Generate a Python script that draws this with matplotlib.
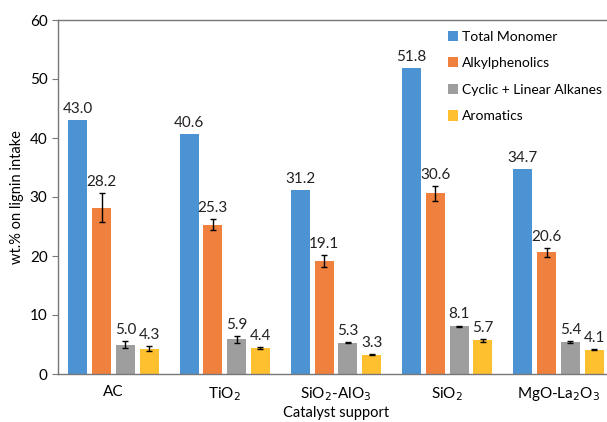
import matplotlib
matplotlib.use("Agg")
import matplotlib.pyplot as plt
import numpy as np

categories = ["AC", "TiO$_2$", "SiO$_2$-AlO$_3$", "SiO$_2$", "MgO-La$_2$O$_3$"]
series_names = ["Total Monomer", "Alkylphenolics", "Cyclic + Linear Alkanes", "Aromatics"]
total_monomer = [43.0, 40.6, 31.2, 51.8, 34.7]
alkylphenolics = [28.2, 25.3, 19.1, 30.6, 20.6]
alkanes = [5.0, 5.9, 5.3, 8.1, 5.4]
aromatics = [4.3, 4.4, 3.3, 5.7, 4.1]
err_total = [0, 0, 0, 0, 0]
err_alkylphenolics = [2.5, 0.9, 1.0, 1.3, 0.7]
err_alkanes = [0.6, 0.6, 0.1, 0.1, 0.2]
err_aromatics = [0.4, 0.2, 0.1, 0.2, 0.1]

values = [total_monomer, alkylphenolics, alkanes, aromatics]
errors = [err_total, err_alkylphenolics, err_alkanes, err_aromatics]
colors = ["#4C93D3", "#F0803E", "#9E9E9E", "#FFC030"]

plt.rcParams['font.family'] = ['Lato', 'DejaVu Sans']
fig = plt.figure(figsize=(6.07, 4.22), dpi=100)
ax = fig.add_axes([58/607, 48/422, 556/607, 354/422])

x = np.arange(len(categories))
step = 0.214
width = 0.17
for i, (vals, errs, c, name) in enumerate(zip(values, errors, colors, series_names)):
    pos = x + (i - 1.5) * step
    has_err = any(e > 0 for e in errs)
    ax.bar(pos, vals, width, color=c, label=name, zorder=2,
           yerr=errs if has_err else None,
           error_kw=dict(ecolor="black", elinewidth=1.0, capsize=2.5, capthick=1.0))
    for p, v, e in zip(pos, vals, errs):
        ax.text(p, v + e + 0.7, f"{v:.1f}", ha="center", va="bottom", fontsize=11, color="#222222")

ax.set_xlim(-0.5, len(categories) - 0.5)
ax.set_ylim(0, 60)
ax.set_yticks(range(0, 61, 10))
ax.set_xticks(x)
ax.set_xticklabels(categories, fontsize=11)
ax.tick_params(axis='y', labelsize=11, length=4, color="#777777", direction='out')
ax.tick_params(axis='x', length=0, pad=8)
for s in ["left", "bottom", "top"]:
    ax.spines[s].set_color("#777777")
    ax.spines[s].set_linewidth(1.0)
ax.spines["right"].set_visible(False)
ax.set_ylabel("wt.% on lignin intake", fontsize=10.5)
ax.set_xlabel("Catalyst support", fontsize=10.5, labelpad=2)

leg = ax.legend(loc="upper left", bbox_to_anchor=(442/607, 1 - 25/422), bbox_transform=fig.transFigure,
                frameon=False, fontsize=10, handlelength=0.75, handleheight=0.75,
                handletextpad=0.3, labelspacing=1.05, borderaxespad=0)

fig.savefig("out.png", dpi=100)
